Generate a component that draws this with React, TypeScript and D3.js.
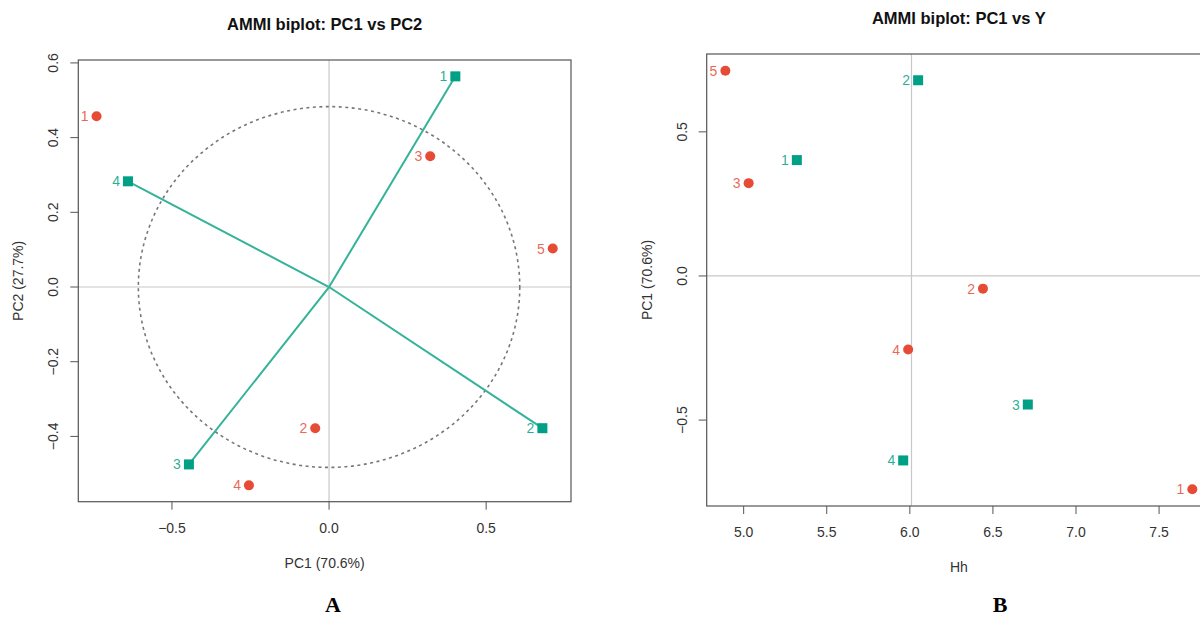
import { useRef, useEffect } from "react";
import * as d3 from "d3";

// environments (red circles) and genotypes (green squares)
const envLabels = ["1", "2", "3", "4", "5"];
const envPC1 = [-0.74, -0.044, 0.322, -0.255, 0.712];
const envPC2 = [0.457, -0.378, 0.35, -0.531, 0.103];
const envMean = [7.7, 6.44, 5.03, 5.99, 4.89];

const genLabels = ["1", "2", "3", "4"];
const genPC1 = [0.402, 0.679, -0.446, -0.64];
const genPC2 = [0.564, -0.378, -0.475, 0.283];
const genMean = [5.32, 6.05, 6.71, 5.96];

// dashed reference circle radii (data units)
const circleRx = 0.607;
const circleRy = 0.483;

const xTicksA = [-0.5, 0, 0.5];
const yTicksA = [-0.4, -0.2, 0, 0.2, 0.4, 0.6];
const xTicksB = [5, 5.5, 6, 6.5, 7, 7.5];
const yTicksB = [-0.5, 0, 0.5];

const RED = "#E64B35";
const GREEN = "#00A087";
const LINE_GREEN = "#34B29A";
const FONT = "'Liberation Sans', Arial, Helvetica, sans-serif";
const TEXT = "#333";

// R-style 4% padding of the range
const padExtent = (vals: number[]): [number, number] => {
  const [lo, hi] = d3.extent(vals) as [number, number];
  const p = (hi - lo) * 0.04;
  return [lo - p, hi + p];
};

export default function App() {
  const svgRef = useRef<SVGSVGElement>(null);

  useEffect(() => {
    if (!svgRef.current) return;
    const svg = d3.select(svgRef.current);
    svg.selectAll("*").remove();

    const fmt = (d: number) => d3.format(".1f")(d).replace("-", "\u2212");

    const drawFrame = (
      g: d3.Selection<SVGGElement, unknown, null, undefined>,
      x: d3.ScaleLinear<number, number>,
      y: d3.ScaleLinear<number, number>,
      xTicks: number[],
      yTicks: number[],
      title: string,
      xTitle: string,
      yTitle: string,
      panel: string,
      panelX: number
    ) => {
      const [x0, x1] = x.range();
      const [y1, y0] = y.range();
      const cx = (x0 + x1) / 2;
      const cy = (y0 + y1) / 2;

      g.append("rect")
        .attr("x", x0)
        .attr("y", y0)
        .attr("width", x1 - x0)
        .attr("height", y1 - y0)
        .attr("fill", "none")
        .attr("stroke", "#555")
        .attr("stroke-width", 1.2);

      const xa = g.append("g");
      xTicks.forEach((t) => {
        xa.append("line")
          .attr("x1", x(t)).attr("x2", x(t))
          .attr("y1", y1).attr("y2", y1 + 8)
          .attr("stroke", "#555");
        xa.append("text")
          .attr("x", x(t))
          .attr("y", y1 + 31)
          .attr("text-anchor", "middle")
          .attr("font-size", 14)
          .attr("fill", TEXT)
          .text(fmt(t));
      });

      const ya = g.append("g");
      yTicks.forEach((t) => {
        ya.append("line")
          .attr("x1", x0 - 8).attr("x2", x0)
          .attr("y1", y(t)).attr("y2", y(t))
          .attr("stroke", "#555");
        ya.append("text")
          .attr("transform", `translate(${x0 - 20},${y(t)}) rotate(-90)`)
          .attr("text-anchor", "middle")
          .attr("font-size", 14)
          .attr("fill", TEXT)
          .text(fmt(t));
      });

      g.append("text")
        .attr("x", cx)
        .attr("y", y0 - 30)
        .attr("text-anchor", "middle")
        .attr("font-size", 16.5)
        .attr("font-weight", "bold")
        .attr("fill", "#111")
        .text(title);

      g.append("text")
        .attr("x", cx)
        .attr("y", y1 + 66)
        .attr("text-anchor", "middle")
        .attr("font-size", 14)
        .attr("fill", TEXT)
        .text(xTitle);

      g.append("text")
        .attr("transform", `translate(${x0 - 55},${cy}) rotate(-90)`)
        .attr("text-anchor", "middle")
        .attr("font-size", 14)
        .attr("fill", TEXT)
        .text(yTitle);

      g.append("text")
        .attr("x", panelX)
        .attr("y", 612)
        .attr("text-anchor", "middle")
        .attr("font-family", "'Liberation Serif', 'Times New Roman', serif")
        .attr("font-weight", "bold")
        .attr("font-size", 22)
        .attr("fill", "#000")
        .text(panel);
    };

    const drawPoints = (
      g: d3.Selection<SVGGElement, unknown, null, undefined>,
      px: number[],
      py: number[],
      labels: string[],
      kind: "circle" | "square"
    ) => {
      const col = kind === "circle" ? RED : GREEN;
      labels.forEach((lab, i) => {
        if (kind === "circle") {
          g.append("circle").attr("cx", px[i]).attr("cy", py[i]).attr("r", 5).attr("fill", col);
        } else {
          g.append("rect")
            .attr("x", px[i] - 5).attr("y", py[i] - 5)
            .attr("width", 10).attr("height", 10)
            .attr("fill", col);
        }
        g.append("text")
          .attr("x", px[i] - 8)
          .attr("y", py[i])
          .attr("dy", "0.36em")
          .attr("text-anchor", "end")
          .attr("font-size", 14)
          .attr("fill", col)
          .attr("fill-opacity", 0.85)
          .text(lab);
      });
    };

    // ---------- Panel A: PC1 vs PC2 ----------
    const gA = svg.append("g").attr("font-family", FONT);
    const xA = d3.scaleLinear().domain(padExtent([...envPC1, ...genPC1])).range([78.3, 571]);
    const yA = d3.scaleLinear().domain(padExtent([...envPC2, ...genPC2])).range([501.7, 60]);

    gA.append("line")
      .attr("x1", xA(0)).attr("x2", xA(0))
      .attr("y1", yA.range()[1]).attr("y2", yA.range()[0])
      .attr("stroke", "#c8c8c8").attr("stroke-width", 1.2);
    gA.append("line")
      .attr("x1", xA.range()[0]).attr("x2", xA.range()[1])
      .attr("y1", yA(0)).attr("y2", yA(0))
      .attr("stroke", "#c8c8c8").attr("stroke-width", 1.2);

    gA.append("ellipse")
      .attr("cx", xA(0))
      .attr("cy", yA(0))
      .attr("rx", xA(circleRx) - xA(0))
      .attr("ry", yA(0) - yA(circleRy))
      .attr("fill", "none")
      .attr("stroke", "#777")
      .attr("stroke-width", 1.6)
      .attr("stroke-dasharray", "3,3.5");

    genLabels.forEach((_, i) => {
      gA.append("line")
        .attr("x1", xA(0)).attr("y1", yA(0))
        .attr("x2", xA(genPC1[i])).attr("y2", yA(genPC2[i]))
        .attr("stroke", LINE_GREEN)
        .attr("stroke-width", 2);
    });

    drawPoints(gA, envPC1.map((d) => xA(d)), envPC2.map((d) => yA(d)), envLabels, "circle");
    drawPoints(gA, genPC1.map((d) => xA(d)), genPC2.map((d) => yA(d)), genLabels, "square");

    drawFrame(gA, xA, yA, xTicksA, yTicksA, "AMMI biplot: PC1 vs PC2", "PC1 (70.6%)", "PC2 (27.7%)", "A", 333);

    // ---------- Panel B: PC1 vs Y ----------
    const gB = svg.append("g").attr("font-family", FONT);
    const xB = d3.scaleLinear().domain(padExtent([...envMean, ...genMean])).range([706.7, 1211]);
    const yB = d3.scaleLinear().domain(padExtent([...envPC1, ...genPC1])).range([506, 54]);
    const grandMean = d3.mean(envMean) as number;

    gB.append("line")
      .attr("x1", xB(grandMean)).attr("x2", xB(grandMean))
      .attr("y1", yB.range()[1]).attr("y2", yB.range()[0])
      .attr("stroke", "#c8c8c8").attr("stroke-width", 1.2);
    gB.append("line")
      .attr("x1", xB.range()[0]).attr("x2", xB.range()[1])
      .attr("y1", yB(0)).attr("y2", yB(0))
      .attr("stroke", "#c8c8c8").attr("stroke-width", 1.2);

    drawPoints(gB, envMean.map((d) => xB(d)), envPC1.map((d) => yB(d)), envLabels, "circle");
    drawPoints(gB, genMean.map((d) => xB(d)), genPC1.map((d) => yB(d)), genLabels, "square");

    drawFrame(gB, xB, yB, xTicksB, yTicksB, "AMMI biplot: PC1 vs Y", "Hh", "PC1 (70.6%)", "B", 1000);
  }, []);

  return (
    <svg
      ref={svgRef}
      width={1200}
      height={617}
      style={{ position: "absolute", left: 0, top: 0, display: "block", background: "#fff" }}
    />
  );
}
